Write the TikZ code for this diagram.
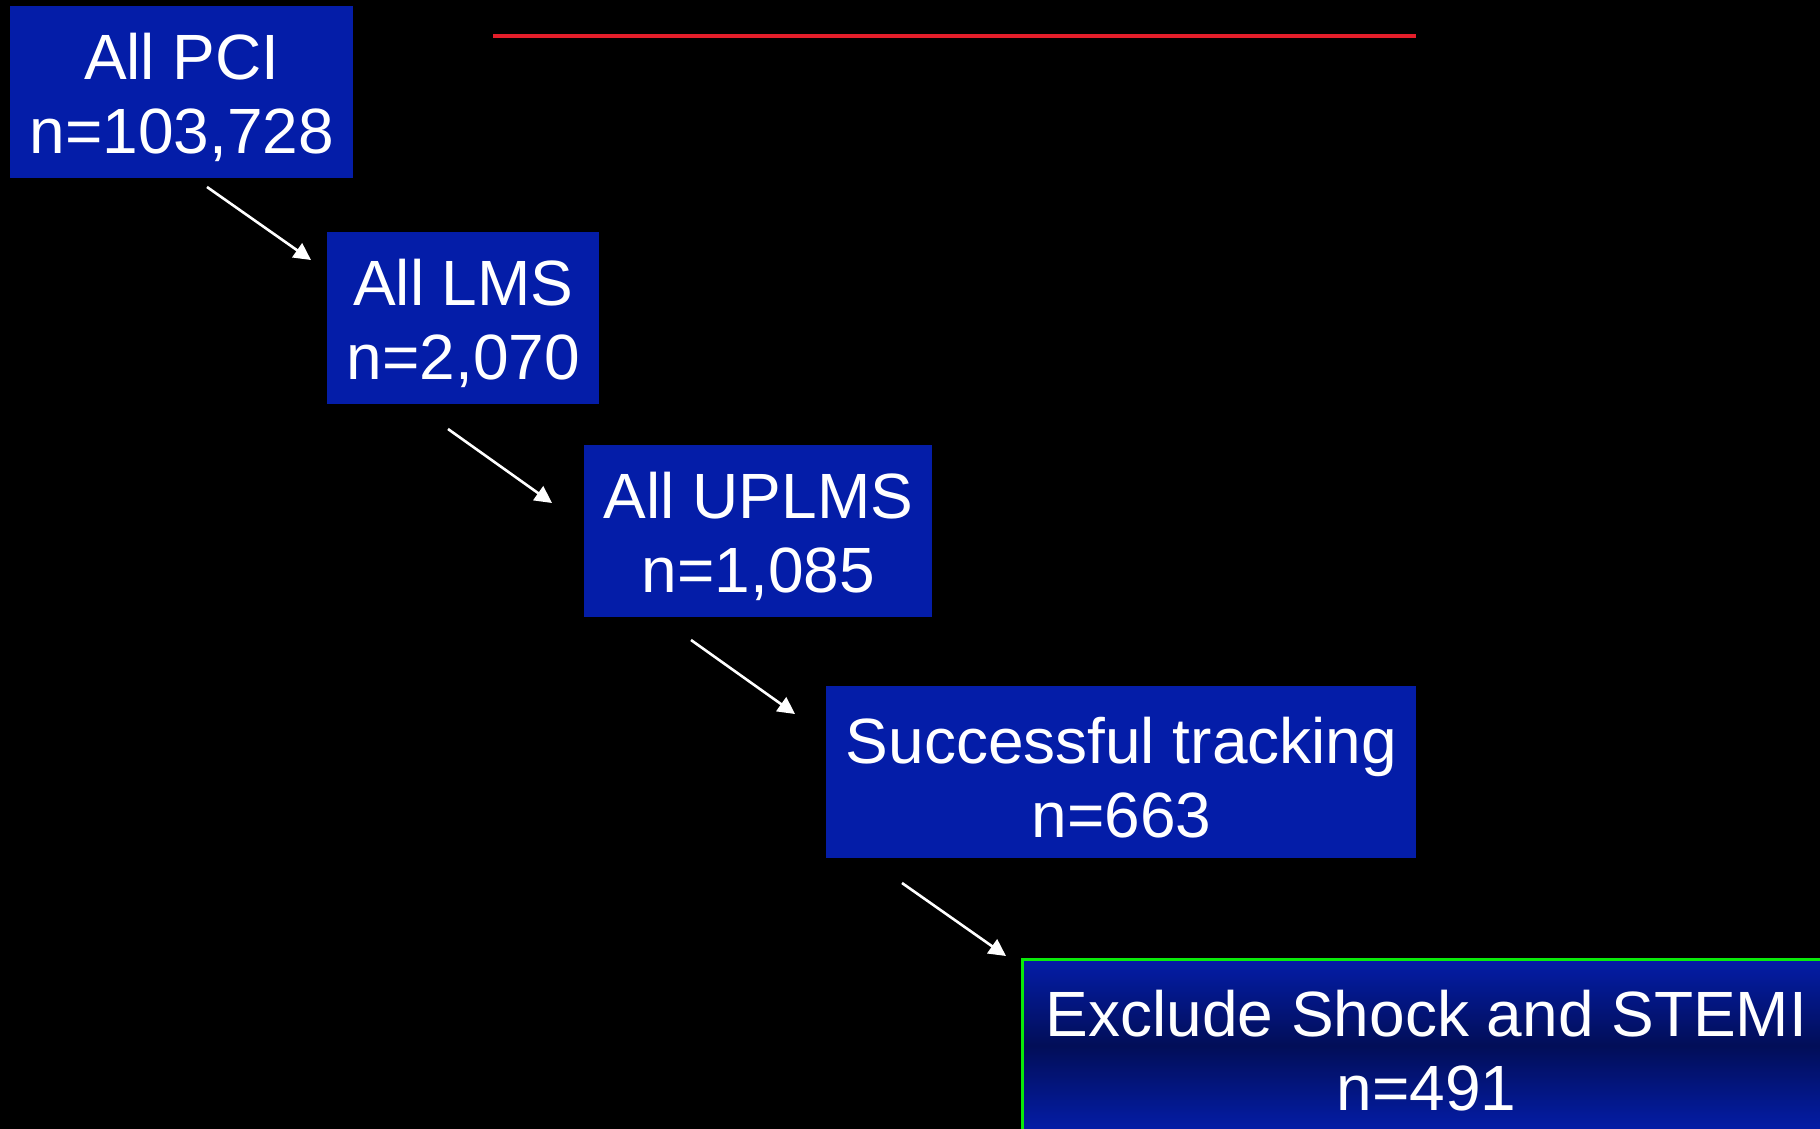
\documentclass[tikz,border=0pt]{standalone}
\usepackage{fontspec}
\setmainfont{Liberation Sans}
\usetikzlibrary{arrows.meta}

\definecolor{boxblue}{RGB}{4,29,168}
\definecolor{boxnavy}{RGB}{2,14,88}
\definecolor{rulered}{RGB}{228,30,42}
\definecolor{edgegreen}{RGB}{10,235,10}

\tikzset{
	stagetext/.style={text=white, align=center, inner sep=0pt, yshift=-2.5pt,
		font=\fontsize{32}{37}\selectfont},
	stage/.style={fill=boxblue, anchor=north west, inner sep=0pt, minimum height=86pt,
		label={[stagetext]center:#1}},
	flow/.style={draw=white, line width=1.3pt, -{Triangle[length=8.5pt,width=8.5pt]}}
}

\begin{document}
\begin{tikzpicture}[x=0.5pt,y=-0.5pt]
		\fill[black] (0,0) rectangle (1820,1129);
		\useasboundingbox (0,0) rectangle (1820,1129);
		% rule under the (cut off) title
		\draw[rulered, line width=2pt] (493,36) -- (1416,36);
		% stages
		\node[stage={All PCI\\n=103,728}, minimum width=171.5pt] (pci) at (10,6) {};
		\node[stage={All LMS\\n=2,070}, minimum width=136pt] (lms) at (327,232) {};
		\node[stage={All UPLMS\\n=1,085}, minimum width=174pt] (uplms) at (584,445) {};
		\node[every label/.append style={yshift=1.7pt},
			stage={Successful tracking\\n=663}, minimum width=295pt] (track) at (826,686) {};
		\node[every label/.append style={yshift=3pt},
			stage={Exclude Shock and STEMI\\n=491}, minimum width=404pt, draw=edgegreen, line width=1.5pt,
			shading=axis, top color=boxblue, bottom color=boxblue, middle color=boxnavy] (excl) at (1021,958) {};
		% arrows
		\coordinate (t1) at (207,187);
		\coordinate (h1) at (311,260);
		\coordinate (t2) at (448,429);
		\coordinate (h2) at (552,503);
		\coordinate (t3) at (691,640);
		\coordinate (h3) at (795,714);
		\coordinate (t4) at (902,883);
		\coordinate (h4) at (1006,956);
		\foreach \i in {1,...,4} {
			\draw[flow] (t\i) -- (h\i);
		}
	\end{tikzpicture}
\end{document}
